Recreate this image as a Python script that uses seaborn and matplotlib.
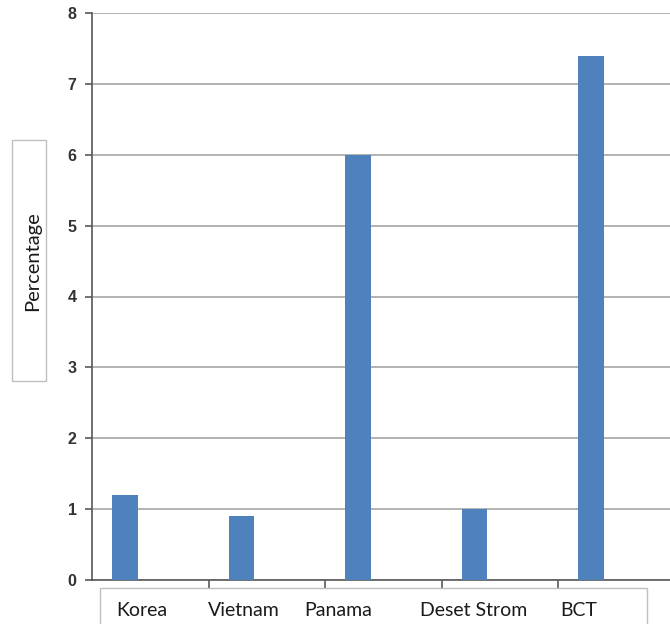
import matplotlib
matplotlib.use("Agg")
import matplotlib.pyplot as plt
from matplotlib.patches import Rectangle
from matplotlib.transforms import ScaledTranslation
import seaborn as sns
import pandas as pd

categories = ["Korea", "Vietnam", "Panama", "Deset Strom", "BCT"]
values = [1.2, 0.9, 6.0, 1.0, 7.4]
y_ticks = [0, 1, 2, 3, 4, 5, 6, 7, 8]
y_label = "Percentage"

sns.set_theme(style="white")
plt.rcParams["font.family"] = ["Lato", "DejaVu Sans"]

W, H = 670, 624
fig = plt.figure(figsize=(W / 100, H / 100), dpi=100)
fig.patch.set_facecolor("white")

# plot area: left edge at 92 px, top at 13 px, bottom at 580 px; runs past the right edge
left, right, top, bottom = 92, 677, 13, 580
ax = fig.add_axes([left / W, 1 - bottom / H, (right - left) / W, (bottom - top) / H])

df = pd.DataFrame({"category": categories, "value": values})
sns.barplot(data=df, x="category", y="value", color="#4F81BD", width=0.22,
            saturation=1, linewidth=0, ax=ax, zorder=3)

step = 116.5
ax.set_xlim(-33 / step, -33 / step + (right - left) / step)
ax.set_ylim(0, 8)
ax.set_yticks(y_ticks)
ax.set_yticklabels([str(t) for t in y_ticks], fontsize=11.5, fontweight="bold",
                   color="#333333", family="Liberation Sans")
ax.yaxis.grid(True, color="#A6A6A6", linewidth=1.2, zorder=0)
ax.xaxis.grid(False)

for s in ["top", "right"]:
    ax.spines[s].set_visible(False)
ax.spines["left"].set_color("#595959")
ax.spines["bottom"].set_color("#595959")
ax.spines["left"].set_linewidth(1.2)
ax.spines["bottom"].set_linewidth(1.2)

ax.tick_params(axis="y", which="major", direction="out", length=5, width=1.2,
               color="#595959", left=True, pad=6)

# category boundary ticks on the x axis
ax.set_xticks([i + 1 - 33 / step for i in range(len(categories) - 1)], minor=True)
ax.tick_params(axis="x", which="minor", direction="out", length=6, width=1.2,
               color="#595959", bottom=True)

ax.set_xticks(range(len(categories)))
ax.set_xticklabels(categories, fontsize=14, color="#1A1A1A")
ax.tick_params(axis="x", which="major", length=0, pad=16)
shifts = [17, 2, -20, -1, -12]
for lab, dx in zip(ax.get_xticklabels(), shifts):
    lab.set_transform(lab.get_transform() + ScaledTranslation(dx / 100, 0, fig.dpi_scale_trans))

ax.set_xlabel("")
ax.set_ylabel("")

# framed boxes for the axis title and the category labels
fig.patches.append(Rectangle((12 / W, 1 - 381 / H), 34 / W, 241 / H,
                             transform=fig.transFigure, facecolor="white",
                             edgecolor="#BFBFBF", linewidth=1.0))
fig.text(33 / W, 1 - 261 / H, y_label, rotation=90, ha="center", va="center",
         fontsize=14.5, color="#1A1A1A")
fig.patches.append(Rectangle((100 / W, 1 - 640 / H), 547 / W, 52 / H,
                             transform=fig.transFigure, facecolor="none",
                             edgecolor="#BFBFBF", linewidth=1.0, zorder=0))

fig.savefig("out.png", dpi=100)
